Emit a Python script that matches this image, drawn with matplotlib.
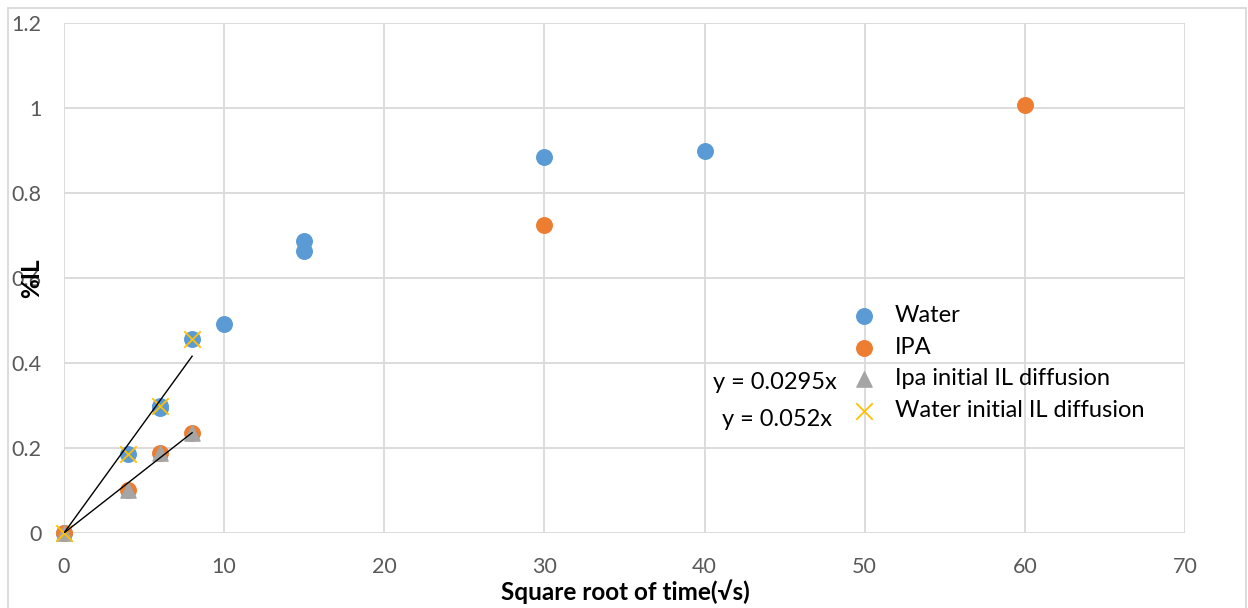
import matplotlib
matplotlib.use('Agg')
import matplotlib.pyplot as plt
import matplotlib.patches as mpatches
import numpy as np

plt.rcParams['font.family'] = ['Lato', 'DejaVu Sans']

# data
water_x = [0, 4, 6, 6, 8, 10, 15, 15, 30, 40]
water_y = [0, 0.187, 0.300, 0.295, 0.457, 0.492, 0.686, 0.663, 0.884, 0.898]
ipa_x = [0, 4, 6, 8, 30, 60]
ipa_y = [0, 0.102, 0.188, 0.235, 0.725, 1.008]
ipa_init_x = [0, 4, 6, 8]
ipa_init_y = [0, 0.102, 0.188, 0.235]
water_init_x = [0, 4, 6, 8]
water_init_y = [0, 0.187, 0.298, 0.457]
slope_ipa = 0.0295
slope_water = 0.052

GRID = '#d9d9d9'
TICK = '#595959'

fig = plt.figure(figsize=(12.48, 6.08), dpi=100)
ax = fig.add_axes([64/1248, 75/608, (1185-64)/1248, (533-23)/608])

ax.scatter(water_x, water_y, s=125, color='#5b9bd5', label='Water',
           zorder=3, clip_on=False)
ax.scatter(ipa_x, ipa_y, s=125, color='#ed7d31', label='IPA',
           zorder=3, clip_on=False)
ax.scatter(ipa_init_x, ipa_init_y, s=120, marker='^', color='#a5a5a5',
           label='Ipa initial IL diffusion', zorder=4, clip_on=False)
ax.scatter(water_init_x, water_init_y, s=140, marker='x', color='#ffc000',
           linewidths=1.3, label='Water initial IL diffusion', zorder=5,
           clip_on=False)

xs = np.array([0, 8])
ax.plot(xs, slope_ipa * xs, color='black', lw=1, zorder=6)
ax.plot(xs, slope_water * xs, color='black', lw=1, zorder=6)

ax.set_xlim(0, 70)
ax.set_ylim(0, 1.2)
ax.set_xticks(range(0, 71, 10))
ax.set_yticks([0, 0.2, 0.4, 0.6, 0.8, 1, 1.2])
ax.set_yticklabels(['0', '0.2', '0.4', '0.6', '0.8', '1', '1.2'])
ax.grid(True, color=GRID, lw=1.3)
ax.set_axisbelow(True)
for s in ax.spines.values():
    s.set_visible(False)
ax.tick_params(length=0, labelsize=15.5, colors=TICK)
ax.tick_params(axis='x', pad=17)
ax.tick_params(axis='y', pad=16)

ax.text(44.4, 0.353, 'y = 0.0295x', ha='center', va='center', fontsize=17)
ax.text(44.5, 0.266, 'y = 0.052x', ha='center', va='center', fontsize=17)

ax.legend(loc='center left', bbox_to_anchor=(0.703, 0.333), frameon=False,
          fontsize=17, handlelength=1.0, handletextpad=0.82, labelspacing=0.45,
          borderaxespad=0, borderpad=0)

fig.text(625/1248, 1 - 592/608, 'Square root of time(\u221as)', ha='center',
         va='center', fontsize=17.5, fontweight='bold')
fig.text(32/1248, 1 - 278/608, '%IL', ha='center', va='center', rotation=90,
         fontsize=17.5, fontweight='bold')

fig.patches.append(mpatches.Rectangle((8/1248, -0.01), (1246-8)/1248, 1 - 8/608 + 0.01,
                                      transform=fig.transFigure, fill=False,
                                      edgecolor='#d9d9d9', lw=1.3))

fig.savefig('out.png', dpi=100, facecolor='white')
